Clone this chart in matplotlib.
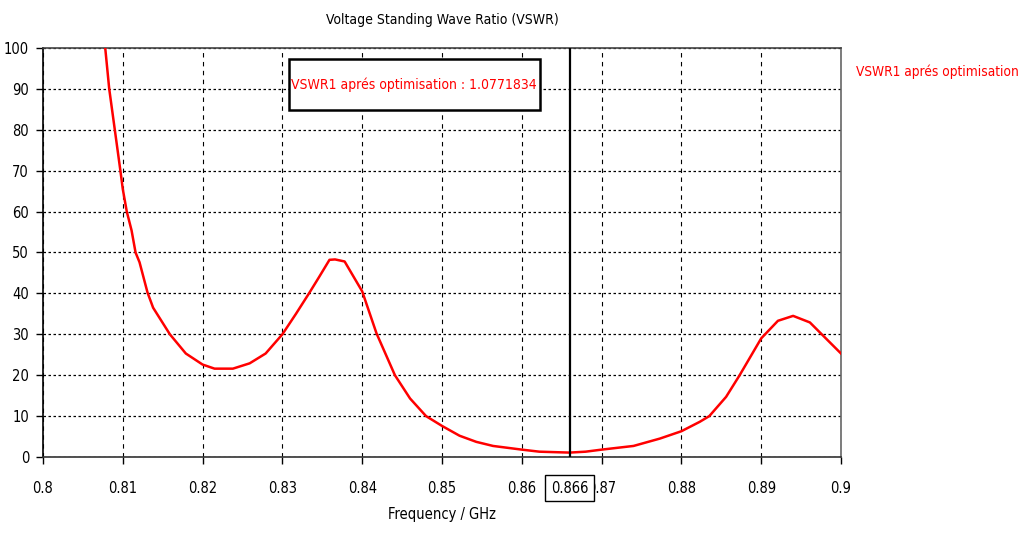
import numpy as np
import matplotlib.pyplot as plt
from matplotlib.patches import Rectangle


############################################## Data #####################################################################
freq_ghz = [0.8078, 0.8083, 0.8090, 0.8097, 0.8100, 0.8105, 0.8111, 0.8116, 0.8121, 0.8131,
            0.8138, 0.8159, 0.8179, 0.8200, 0.8215, 0.8238, 0.8259, 0.8279, 0.8300, 0.8317,
            0.8334, 0.8346, 0.8359, 0.8366, 0.8378, 0.8400, 0.8418, 0.8441, 0.8460, 0.8480,
            0.8500, 0.8522, 0.8543, 0.8564, 0.8600, 0.8622, 0.8647, 0.8660, 0.8680, 0.8700,
            0.8740, 0.8773, 0.8800, 0.8823, 0.8835, 0.8856, 0.8873, 0.8900, 0.8921, 0.8940,
            0.8961, 0.8981, 0.9000]
vswr = [100, 90, 80, 70, 65.5, 60, 55.4, 50, 47.6, 40.2,
        36.5, 30, 25.3, 22.6, 21.6, 21.6, 22.9, 25.3, 30, 35,
        40.2, 44, 48.2, 48.3, 47.8, 40.5, 30.2, 20, 14.3, 10,
        7.6, 5.2, 3.7, 2.7, 1.8, 1.3, 1.15, 1.077, 1.3, 1.8,
        2.7, 4.5, 6.3, 8.6, 10, 14.7, 20, 29, 33.3, 34.5,
        32.9, 29, 25.3]

marker_freq = 0.866
marker_value = 1.0771834
series_name = "VSWR1 aprés optimisation"

x_ticks = [0.8, 0.81, 0.82, 0.83, 0.84, 0.85, 0.86, 0.87, 0.88, 0.89, 0.9]
x_tick_labels = ["0.8", "0.81", "0.82", "0.83", "0.84", "0.85", "0.86", "0.87", "0.88", "0.89", "0.9"]
y_ticks = [0, 10, 20, 30, 40, 50, 60, 70, 80, 90, 100]


###################################################### Plot ############################################################
plt.rcParams['font.family'] = ['DejaVu Sans']
plt.rcParams['font.stretch'] = 'condensed'

fig = plt.figure(figsize=(10.21, 5.33), dpi=100)
ax = fig.add_axes([0.0421, 0.1426, 0.7816, 0.7674])

ax.plot(freq_ghz, vswr, color='red', linewidth=1.8, zorder=3, clip_on=True)
ax.axvline(marker_freq, color='black', linewidth=1.6, zorder=4)

ax.set_xlim(0.8, 0.9)
ax.set_ylim(0, 100)
ax.set_xticks(x_ticks)
ax.set_xticklabels(x_tick_labels)
ax.set_yticks(y_ticks)
ax.tick_params(axis='both', direction='out', length=5, width=1, labelsize=10.5, colors='black')
ax.tick_params(axis='x', pad=12)
ax.tick_params(axis='y', pad=5)

# grid: dashed verticals, dotted horizontals
ax.xaxis.grid(True, linestyle=(0, (4, 4)), color='black', linewidth=0.8)
ax.yaxis.grid(True, linestyle=(0, (2, 2)), color='black', linewidth=0.9)
ax.set_axisbelow(True)

for side, col in [('left', 'black'), ('bottom', '#333333'), ('top', '#444444'), ('right', '#666666')]:
    ax.spines[side].set_color(col)
    ax.spines[side].set_linewidth(1.2)

ax.set_title("Voltage Standing Wave Ratio (VSWR)", fontsize=10, pad=17)
ax.set_xlabel("Frequency / GHz", fontsize=10.5, labelpad=8)

# marker readout box
ax.add_patch(Rectangle((0.308, 0.848), 0.3145, 0.1247, transform=ax.transAxes,
                       facecolor='white', edgecolor='black', linewidth=1.8, zorder=5))
ax.text(0.465, 0.910, f"{series_name} : {marker_value}", transform=ax.transAxes,
        ha='center', va='center', color='red', fontsize=10, zorder=6)

# boxed marker frequency on the x axis
ax.text(marker_freq, -7.6, f"{marker_freq}", transform=ax.transData,
        ha='center', va='center', fontsize=10.5, color='black', clip_on=False, zorder=6,
        bbox=dict(boxstyle='square,pad=0.4', facecolor='white', edgecolor='black', linewidth=1.0))

# legend entry on the right
fig.text(0.8385, 0.865, series_name, color='red', fontsize=9.8, ha='left', va='center')

plt.savefig("out.png", dpi=100)
